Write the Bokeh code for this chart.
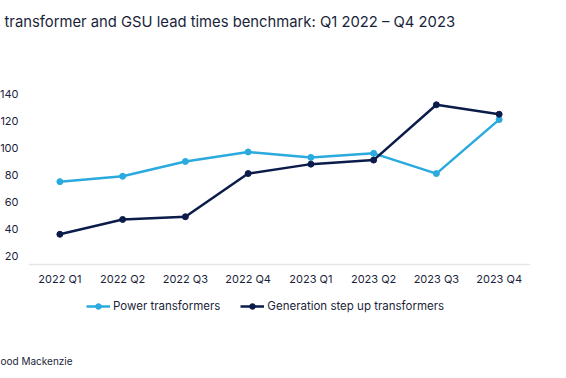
from bokeh.plotting import figure
from bokeh.models import (FactorRange, Range1d, FixedTicker, Legend, LegendItem,
                          Title, ColumnDataSource)
from bokeh.embed import file_html
from bokeh.resources import INLINE

quarters = ["2022 Q1", "2022 Q2", "2022 Q3", "2022 Q4",
            "2023 Q1", "2023 Q2", "2023 Q3", "2023 Q4"]
power_transformers = [75, 79, 90, 97, 93, 96, 81, 121]
gsu_transformers = [36, 47, 49, 81, 88, 91, 132, 125]
y_ticks = [20, 40, 60, 80, 100, 120, 140]

title_text = "transformer and GSU lead times benchmark: Q1 2022 \u2013 Q4 2023"
source_text = "ood Mackenzie"

LIGHT = "#2aaade"
DARK = "#0c1c4a"
TEXT = "#1b1f3b"
FONT = "Inter"

Y_BASE = 13.6   # value where the category axis sits

W, H = 566, 378
p = figure(width=W, height=H, x_range=FactorRange(*quarters),
           y_range=Range1d(-29.4, 150), output_backend="svg",
           toolbar_location=None, min_border_left=36, min_border_right=28,
           min_border_top=80, min_border_bottom=56)
p.styles = {"margin-left": "-8px"}
p.outline_line_color = None
p.xgrid.grid_line_color = None
p.ygrid.grid_line_color = None

# main title (outermost) with a spacer title between it and the plot
p.title.text = title_text
p.title.align = "left"
p.title.offset = -24
p.title.standoff = 0
p.title.text_font = FONT
p.title.text_font_size = "14.8px"
p.title.text_font_style = "normal"
p.title.text_color = TEXT
p.add_layout(Title(text=" ", text_font_size="10px", standoff=37), "above")

src = ColumnDataSource(dict(q=quarters, pt=power_transformers, gsu=gsu_transformers))
l1 = p.line("q", "pt", source=src, line_color=LIGHT, line_width=2.5)
s1 = p.scatter("q", "pt", source=src, size=6, fill_color=LIGHT, line_color=LIGHT)
l2 = p.line("q", "gsu", source=src, line_color=DARK, line_width=2.5)
s2 = p.scatter("q", "gsu", source=src, size=6, fill_color=DARK, line_color=DARK)

p.yaxis.ticker = FixedTicker(ticks=y_ticks)
p.yaxis.axis_line_color = None
p.yaxis.major_tick_line_color = None
p.yaxis.major_tick_out = 0
p.yaxis.major_tick_in = 0
p.yaxis.minor_tick_line_color = None
p.yaxis.major_label_standoff = 10
p.yaxis.major_label_text_font = FONT
p.yaxis.major_label_text_font_size = "11px"
p.yaxis.major_label_text_color = TEXT

p.xaxis.fixed_location = Y_BASE
p.xaxis.axis_line_color = "#e4e6ea"
p.xaxis.axis_line_width = 1.5
p.xaxis.major_tick_line_color = None
p.xaxis.major_tick_out = 0
p.xaxis.major_tick_in = 0
p.xaxis.major_label_standoff = 8
p.xaxis.major_label_text_font = FONT
p.xaxis.major_label_text_font_size = "11px"
p.xaxis.major_label_text_color = TEXT

legend = Legend(items=[LegendItem(label="Power transformers", renderers=[l1, s1]),
                       LegendItem(label="Generation step up transformers", renderers=[l2, s2])],
                orientation="horizontal", location=(58, 6),
                padding=0, margin=0, spacing=20, label_standoff=3,
                glyph_width=24, glyph_height=14, label_height=20,
                border_line_color=None, background_fill_alpha=0,
                label_text_font=FONT, label_text_font_size="11.5px",
                label_text_color=TEXT)
p.add_layout(legend, "center")

# spacer below the axis, then the source line
p.add_layout(Title(text=" ", text_font_size="10px", standoff=17), "below")
footer = Title(text=source_text, align="left", offset=-28, standoff=0,
               text_font=FONT, text_font_size="10px", text_font_style="normal",
               text_color=TEXT)
p.add_layout(footer, "below")

open("out.html", "w").write(file_html(p, INLINE))
